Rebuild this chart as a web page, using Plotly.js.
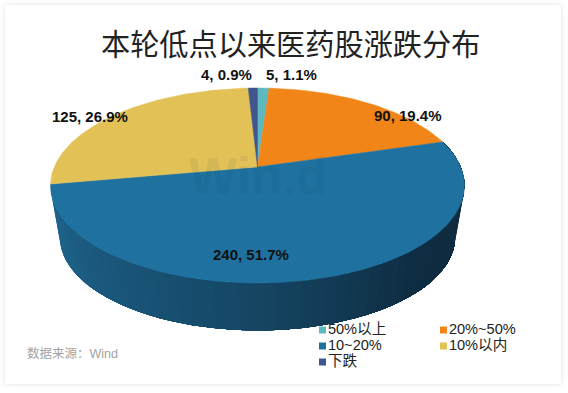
<!DOCTYPE html>
<html><head><meta charset="utf-8">
<script src="https://cdn.plot.ly/plotly-3.0.1.min.js"></script>
<style>
html,body{margin:0;padding:0;background:#fff;width:568px;height:393px;overflow:hidden}
#card{position:absolute;left:5px;top:5px;width:556px;height:379px;background:#fff;box-shadow:0 0 5px rgba(0,0,0,.13)}
#chart{position:absolute;left:0;top:0;width:568px;height:393px}
</style></head><body>
<div id="card"></div><div id="chart"></div>
<script>
// DATA
const categories = ['50%以上','20%~50%','10~20%','10%以内','下跌'];
const counts = [5,90,240,125,4];
const percents = ['1.1%','19.4%','51.7%','26.9%','0.9%'];
const colors = ['#5fb9c0','#f28518','#1f72a0','#e2c156','#41558f'];
const titleText = '本轮低点以来医药股涨跌分布';
const sourceText = '数据来源：Wind';

// Perspective projection of the pie disc onto the axes
const total = counts.reduce((a,b)=>a+b,0);
const proj = {cx:257.5, cy:167, a:203.2, b:94, k:0.19};
function topPt(t){const u=Math.sin(t),v=-Math.cos(t),w=1-proj.k*v;
  return [proj.cx+proj.a*u/w, proj.cy+proj.b*v/w];}
const depth = {s:0.955, dy:52.5};
function botPt(t){const u=Math.sin(t),v=-Math.cos(t),w=1-proj.k*v;
  return [proj.cx+depth.s*proj.a*u/w, proj.cy+depth.dy+depth.s*proj.b*v/w];}

const traces=[]; const deg=Math.PI/180;
let cum=0; const spans=counts.map(c=>{const s=[cum/total*2*Math.PI,(cum+c)/total*2*Math.PI];cum+=c;return s;});

// side wall of the large front slice, shaded in overlapping strips
function mix(p){ // p: 0 at the right edge, 1 at the left edge
  const stops=[[0,[14,42,62]],[0.35,[15,45,66]],[0.6,[22,72,103]],[1,[31,104,146]]];
  for(let i=1;i<stops.length;i++){ if(p<=stops[i][0]){
    const f=(p-stops[i-1][0])/(stops[i][0]-stops[i-1][0]);
    const c=stops[i-1][1].map((v,j)=>Math.round(v+(stops[i][1][j]-v)*f));
    return `rgb(${c.join(',')})`;}}
  return 'rgb(31,104,146)';
}
const frontIdx=2; const [fs,fe]=spans[frontIdx]; const n=64;
for(let i=n-1;i>=0;i--){
  const pts=[];
  const end=i+1;
  for(let j=0;j<=end;j++){pts.push(topPt(fs+(fe-fs)*j/n));}
  for(let j=end;j>=0;j--){pts.push(botPt(fs+(fe-fs)*j/n));}
  pts.push(pts[0]);
  const col=mix((i+.5)/n);
  traces.push({type:'scatter',mode:'lines',x:pts.map(p=>p[0]),y:pts.map(p=>p[1]),fill:'toself',
    fillcolor:col,line:{width:0},hoverinfo:'skip',showlegend:false});
}
// top faces
spans.forEach((s,i)=>{
  const pts=[[proj.cx,proj.cy]];
  const m=Math.max(4,Math.ceil((s[1]-s[0])/deg));
  for(let j=0;j<=m;j++) pts.push(topPt(s[0]+(s[1]-s[0])*j/m));
  pts.push([proj.cx,proj.cy]);
  traces.push({type:'scatter',mode:'lines',name:categories[i],x:pts.map(p=>p[0]),y:pts.map(p=>p[1]),
    fill:'toself',fillcolor:colors[i],line:{color:colors[i],width:0.5},hoverinfo:'name',showlegend:false});
});

// legend drawn as a marker trace
const legX=[322.5,443.5,322.5,443.5,322.5], legY=[330,330,346,346,362];
traces.push({type:'scatter',mode:'markers+text',x:legX,y:legY,text:categories,textposition:'middle right',
  marker:{symbol:'square',size:7,color:colors},
  textfont:{family:'"Liberation Sans","Noto Sans CJK SC",sans-serif',size:14.6,color:'#222'},
  hoverinfo:'skip',showlegend:false});

const labelPos=[[291,74],[408,115],[251,254],[90,116],[226,74]];
const annotations=counts.map((c,i)=>({xref:'x',yref:'y',x:labelPos[i][0],y:labelPos[i][1],showarrow:false,
  text:`${c}, ${percents[i]}`,font:{family:'"Liberation Sans",Arial,sans-serif',size:15,color:'#111',weight:700}}));
annotations.unshift({xref:'x',yref:'y',x:257.5,y:176,showarrow:false,text:'Win.d',
  font:{family:'"Liberation Sans",Arial,sans-serif',size:51,color:'rgba(20,50,80,0.07)',weight:700}});
annotations.push({xref:'x',yref:'y',x:25,y:353,xanchor:'left',showarrow:false,text:sourceText,
  font:{family:'"Liberation Sans","Noto Sans CJK SC",sans-serif',size:12.5,color:'#a3a3a3'}});
annotations.push({xref:'x',yref:'y',x:290,y:42,showarrow:false,text:titleText,
  font:{family:'"Noto Sans CJK SC",sans-serif',size:29.2,color:'#222'}});

Plotly.newPlot('chart',traces,{
  width:568,height:393,margin:{l:0,r:0,t:0,b:0},
  paper_bgcolor:'rgba(0,0,0,0)',plot_bgcolor:'rgba(0,0,0,0)',
  xaxis:{range:[0,568],visible:false,fixedrange:true},
  yaxis:{range:[393,0],visible:false,fixedrange:true},
  showlegend:false,annotations:annotations
},{displayModeBar:false,staticPlot:true});
</script></body></html>
